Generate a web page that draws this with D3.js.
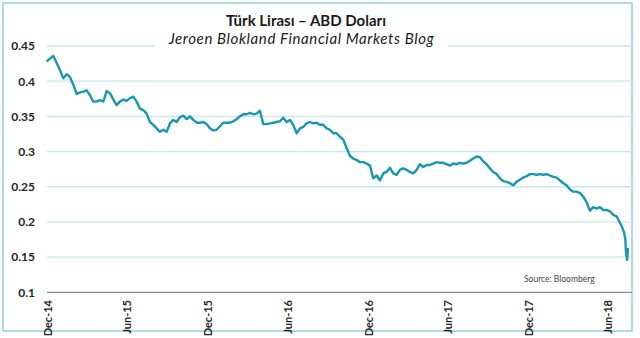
<!DOCTYPE html>
<html>
<head>
<meta charset="utf-8">
<script src="https://cdn.jsdelivr.net/npm/d3@7"></script>
<style>
  html, body { margin: 0; padding: 0; background: #fff; }
  svg { display: block; font-family: Lato, "Open Sans", sans-serif; }
</style>
</head>
<body>
<svg id="chart" width="640" height="338"></svg>
<script>
// ---------------- data ----------------
const titleText = "Türk Lirası – ABD Doları";
const subtitleText = "Jeroen Blokland Financial Markets Blog";
const sourceText = "Source: Bloomberg";

const yTicks = [0.1, 0.15, 0.2, 0.25, 0.3, 0.35, 0.4, 0.45];
const yTickLabels = ["0.1", "0.15", "0.2", "0.25", "0.3", "0.35", "0.4", "0.45"];

const xTickDates = ["2014-12-31", "2015-06-30", "2015-12-31", "2016-06-30",
                    "2016-12-31", "2017-06-30", "2017-12-31", "2018-06-30"];
const xTickLabels = ["Dec-14", "Jun-15", "Dec-15", "Jun-16",
                     "Dec-16", "Jun-17", "Dec-17", "Jun-18"];

// regularly sampled TRY/USD values (about every 7.6 days) from 2014-12-29 to 2018-07-20
const sampleStart = "2014-12-29";
const sampleEnd = "2018-07-20";
const sampledRates = [
  0.428, 0.432, 0.436, 0.426, 0.416, 0.404, 0.410, 0.406, 0.395, 0.382,
  0.384, 0.385, 0.387, 0.380, 0.371, 0.371, 0.373, 0.371, 0.386, 0.383,
  0.374, 0.366, 0.371, 0.374, 0.372, 0.376, 0.378, 0.371, 0.361, 0.359,
  0.354, 0.342, 0.338, 0.333, 0.328, 0.331, 0.328, 0.340, 0.345, 0.342,
  0.349, 0.351, 0.346, 0.350, 0.345, 0.341, 0.341, 0.342, 0.339, 0.333,
  0.330, 0.331, 0.336, 0.341, 0.341, 0.341, 0.343, 0.346, 0.350, 0.353,
  0.353, 0.355, 0.353, 0.354, 0.358, 0.339, 0.339, 0.340, 0.341, 0.342,
  0.343, 0.348, 0.342, 0.345, 0.338, 0.326, 0.333, 0.335, 0.340, 0.342,
  0.340, 0.341, 0.338, 0.338, 0.333, 0.331, 0.326, 0.326, 0.321, 0.317,
  0.305, 0.294, 0.290, 0.288, 0.285, 0.285, 0.283, 0.280, 0.262, 0.266,
  0.259, 0.269, 0.271, 0.277, 0.269, 0.267, 0.274, 0.276, 0.274, 0.271,
  0.269, 0.274, 0.282, 0.278, 0.281, 0.281, 0.283, 0.285, 0.284, 0.284,
  0.282, 0.280, 0.283, 0.282, 0.284, 0.283, 0.284, 0.287, 0.290, 0.293,
  0.292, 0.286, 0.282, 0.276, 0.271, 0.268, 0.262, 0.258, 0.257, 0.255,
  0.252, 0.257, 0.260, 0.263, 0.265, 0.268, 0.268, 0.267, 0.268, 0.267,
  0.268, 0.266, 0.264, 0.263, 0.259, 0.255, 0.252, 0.246, 0.243, 0.243,
  0.241, 0.236, 0.228, 0.216, 0.221, 0.219, 0.221, 0.217, 0.217, 0.215,
  0.210, 0.208
];

// final days of the crash (daily)
const finalDates = ["2018-07-31", "2018-08-06", "2018-08-09", "2018-08-10", "2018-08-13", "2018-08-15"];
const finalRates = [0.195, 0.185, 0.175, 0.160, 0.146, 0.163];

// ---------------- build ----------------
const parse = d3.timeParse("%Y-%m-%d");
const t0 = parse(sampleStart), t1 = parse(sampleEnd);
const idx = d3.scaleLinear().domain([0, sampledRates.length - 1]).range([t0.getTime(), t1.getTime()]);
const series = sampledRates.map((v, i) => ({ date: new Date(idx(i)), value: v }))
  .concat(finalDates.map((d, i) => ({ date: parse(d), value: finalRates[i] })));

const svg = d3.select("#chart");

const x = d3.scaleTime()
  .domain([parse("2014-12-31"), parse("2018-08-15")])
  .range([47.5, 628]);
const y = d3.scaleLinear().domain([0.1, 0.45]).range([292.3, 46]);

const gridLeft = 47, gridRight = 632;

// frame
svg.append("rect")
  .attr("x", 3).attr("y", 3).attr("width", 629).attr("height", 328)
  .attr("fill", "#fff").attr("stroke", "#a6d6df").attr("stroke-width", 1.8);

// gridlines
svg.append("g")
  .selectAll("line")
  .data(yTicks.filter(v => v > 0.1))
  .join("line")
  .attr("x1", gridLeft).attr("x2", gridRight)
  .attr("y1", d => y(d)).attr("y2", d => y(d))
  .attr("stroke", "#c4e7ee").attr("stroke-width", 1.3);

// title box (interrupts top gridline)
svg.append("rect")
  .attr("x", 155).attr("y", 8).attr("width", 293).attr("height", 44)
  .attr("fill", "#fff");

// line
svg.append("path")
  .datum(series)
  .attr("fill", "none")
  .attr("stroke", "#1797b0")
  .attr("stroke-width", 2.4)
  .attr("stroke-linejoin", "round")
  .attr("d", d3.line().x(d => x(d.date)).y(d => y(d.value)));

// x axis baseline
svg.append("line")
  .attr("x1", gridLeft).attr("x2", gridRight)
  .attr("y1", y(0.1)).attr("y2", y(0.1))
  .attr("stroke", "#8a8a8a").attr("stroke-width", 1.3);

// y axis labels
const yAxis = d3.axisLeft(y)
  .tickValues(yTicks)
  .tickFormat((d, i) => yTickLabels[i])
  .tickSize(0).tickPadding(0);
const gy = svg.append("g").attr("transform", "translate(35,0)").call(yAxis);
gy.select(".domain").remove();
gy.selectAll("text")
  .attr("fill", "#262626")
  .style("font-size", "12px")
  .style("font-weight", "bold")
  .style("font-family", "Lato, sans-serif");

// x axis labels
const xAxis = d3.axisBottom(x)
  .tickValues(xTickDates.map(parse))
  .tickFormat((d, i) => xTickLabels[i])
  .tickSize(0);
const gx = svg.append("g").attr("transform", "translate(0,300)").call(xAxis);
gx.select(".domain").remove();
gx.selectAll("text")
  .attr("fill", "#262626")
  .style("font-size", "11px")
  .style("font-weight", "bold")
  .style("font-family", "Lato, sans-serif")
  .attr("transform", "rotate(-90)")
  .attr("text-anchor", "end")
  .attr("x", 0)
  .attr("y", 0)
  .attr("dx", "0")
  .attr("dy", "0.35em");

// titles
svg.append("text")
  .attr("x", 306).attr("y", 26)
  .attr("text-anchor", "middle")
  .style("font-size", "15px").style("font-weight", "bold")
  .attr("fill", "#1a1a1a")
  .text(titleText);

svg.append("text")
  .attr("x", 301.5).attr("y", 44)
  .attr("text-anchor", "middle")
  .style("font-size", "15px").style("font-style", "italic")
  .style("letter-spacing", "0.6px")
  .attr("fill", "#1a1a1a")
  .text(subtitleText);

// source
svg.append("text")
  .attr("x", 524).attr("y", 282)
  .style("font-size", "8.5px")
  .attr("fill", "#444")
  .text(sourceText);
</script>
</body>
</html>
